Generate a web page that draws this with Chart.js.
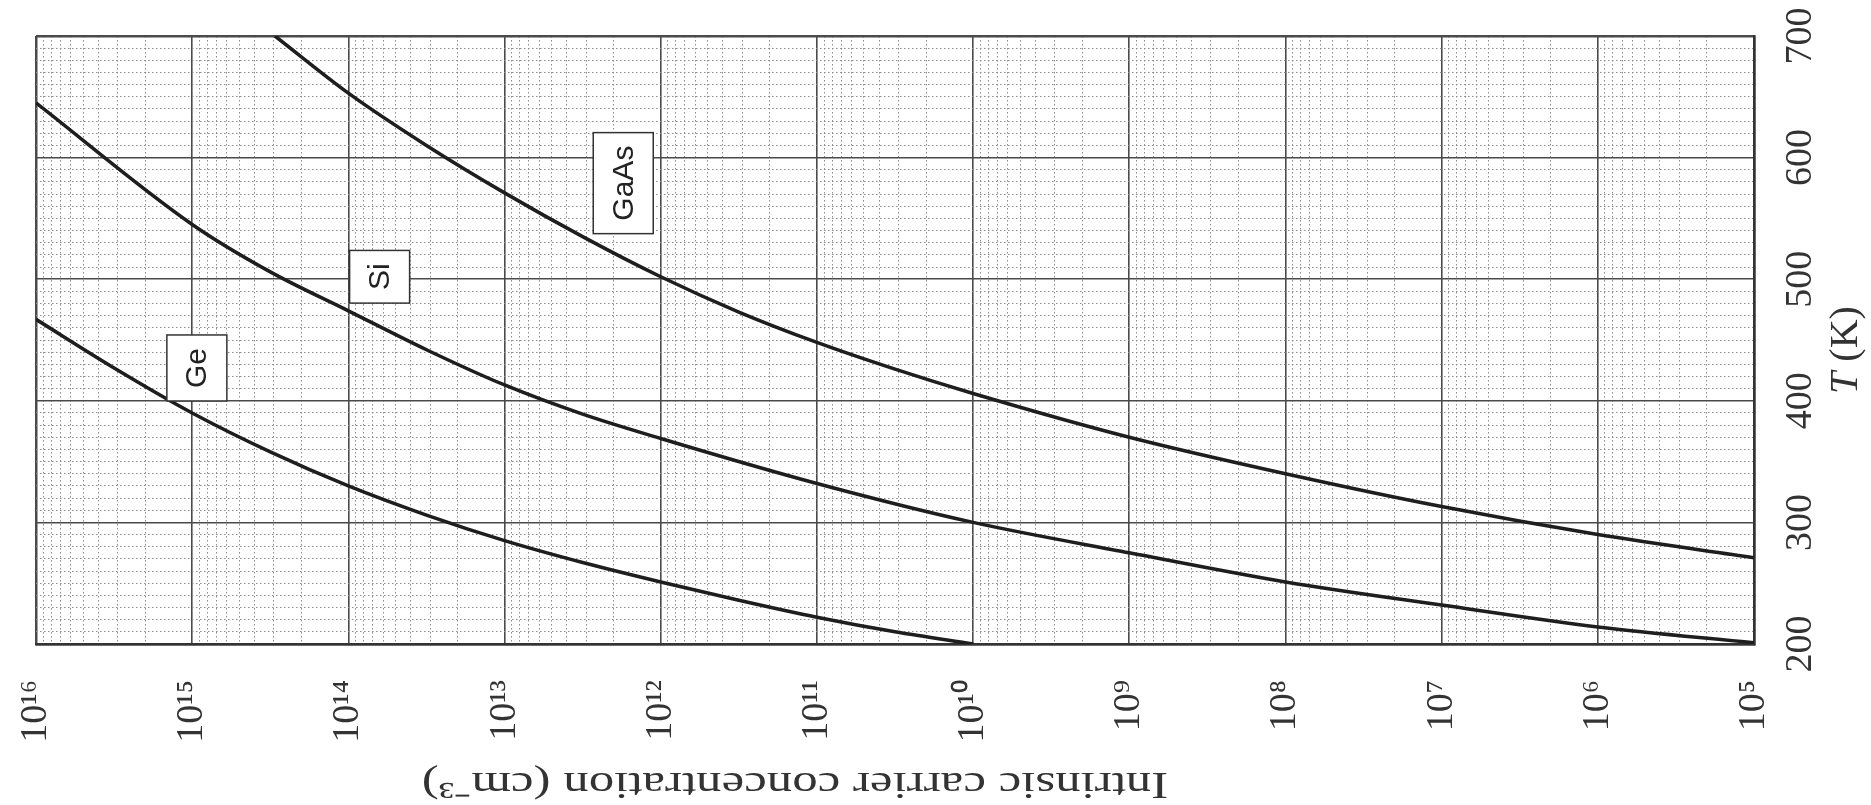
<!DOCTYPE html>
<html>
<head>
<meta charset="utf-8">
<script src="https://cdn.jsdelivr.net/npm/chart.js@4.4.1/dist/chart.umd.min.js"></script>
<style>
  html, body { margin: 0; padding: 0; background: #fff; }
  #wrap { width: 1871px; height: 805px; }
</style>
</head>
<body>
<div id="wrap"><canvas id="ni_chart" width="1871" height="805"></canvas></div>
<script>
// log10 of intrinsic carrier concentration, with the temperature read at each point
const ge_logn = [16, 15.5, 15, 14.5, 14, 13.5, 13, 12.5, 12, 11.5, 11, 10.5, 10];
const ge_temp = [467, 427, 390, 358, 330, 306, 285, 267, 251, 236, 222, 210, 200];

const si_logn = [16, 15, 14.5, 14, 13.5, 13, 12.5, 12, 11, 10, 9, 8, 7, 6, 5];
const si_temp = [645, 545, 506, 474, 442, 413, 389, 369, 332, 300, 275, 251, 232, 214, 201];

const gaas_logn = [14.47, 14, 13.5, 13, 12.5, 12, 11.5, 11, 10.5, 10, 9, 8, 7, 6, 5];
const gaas_temp = [700, 653, 610, 571, 535, 502, 473, 448, 426, 406, 370, 340, 313, 290, 271];

const temp_ticks = [200, 300, 400, 500, 600, 700];

const curve_names = ['Ge', 'Si', 'GaAs'];
// where the boxed names sit (log10 n, T)
const name_logn = [14.97, 13.8, 12.24];
const name_temp = [427, 502, 579];

const sup = { '0': '⁰', '1': '¹', '2': '²', '3': '³', '4': '⁴', '5': '⁵', '6': '⁶', '7': '⁷', '8': '⁸', '9': '⁹' };

function toPoints(logn, temp) {
    return logn.map((e, i) => ({ x: Math.pow(10, e), y: temp[i] }));
}

function isDecade(v) {
    const l = Math.log10(v);
    return Math.abs(l - Math.round(l)) < 1e-6;
}

const serif = '"Liberation Serif", "Times New Roman", serif';

const extraText = {
    id: 'extraText',
    afterDraw(chart) {
        const ctx = chart.ctx;
        const xs = chart.scales.x;
        const ys = chart.scales.y;
        const area = chart.chartArea;

        // boxed curve names
        ctx.save();
        ctx.font = '30px "Liberation Sans", Arial, sans-serif';
        ctx.textAlign = 'center';
        ctx.textBaseline = 'middle';
        curve_names.forEach((name, i) => {
            const cx = xs.getPixelForValue(Math.pow(10, name_logn[i]));
            const cy = ys.getPixelForValue(name_temp[i]);
            const w = ctx.measureText(name).width;
            const len = w + 26;
            const thick = 60;
            ctx.fillStyle = '#fff';
            ctx.fillRect(cx - thick / 2, cy - len / 2, thick, len);
            ctx.strokeStyle = '#333';
            ctx.lineWidth = 1.5;
            ctx.strokeRect(cx - thick / 2, cy - len / 2, thick, len);
            ctx.save();
            ctx.translate(cx, cy);
            ctx.rotate(-Math.PI / 2);
            ctx.fillStyle = '#222';
            ctx.fillText(name, 0, 1);
            ctx.restore();
        });
        ctx.restore();

        // temperature tick labels, turned like the rest of the figure
        ctx.save();
        ctx.font = '38px ' + serif;
        ctx.fillStyle = '#333';
        ctx.textAlign = 'center';
        ctx.textBaseline = 'middle';
        temp_ticks.forEach(t => {
            const py = ys.getPixelForValue(t);
            ctx.save();
            ctx.translate(area.right + 47, py);
            ctx.rotate(-Math.PI / 2);
            ctx.fillText(String(t), 0, 0);
            ctx.restore();
        });

        // T (K)
        ctx.save();
        ctx.translate(1846, 350);
        ctx.rotate(-Math.PI / 2);
        const tFont = 'italic 40px ' + serif;
        const kFont = '40px ' + serif;
        ctx.font = tFont;
        const wT = ctx.measureText('T').width;
        ctx.font = kFont;
        const wK = ctx.measureText(' (K)').width;
        ctx.textAlign = 'left';
        ctx.font = tFont;
        ctx.fillText('T', -(wT + wK) / 2, 0);
        ctx.font = kFont;
        ctx.fillText(' (K)', -(wT + wK) / 2 + wT, 0);
        ctx.restore();

        // concentration title, upside down
        ctx.save();
        ctx.translate(795, 783);
        ctx.rotate(Math.PI);
        ctx.scale(1.34, 1);
        ctx.font = '38px ' + serif;
        ctx.textAlign = 'center';
        ctx.fillText('Intrinsic carrier concentration (cm⁻³)', 0, 0);
        ctx.restore();
        ctx.restore();
    }
};

const ni_chart = document.getElementById('ni_chart');

function edgeX(v) { return Math.abs(Math.log10(v) - 16) < 1e-6 || Math.abs(Math.log10(v) - 5) < 1e-6; }

new Chart(ni_chart, {
    type: 'line',
    data: {
        datasets: [
            { label: 'Ge', data: toPoints(ge_logn, ge_temp) },
            { label: 'Si', data: toPoints(si_logn, si_temp) },
            { label: 'GaAs', data: toPoints(gaas_logn, gaas_temp) },
        ].map(d => Object.assign(d, {
            borderColor: '#1e1e1e',
            borderWidth: 3.5,
            pointRadius: 0,
            cubicInterpolationMode: 'monotone',
            fill: false
        }))
    },
    options: {
        responsive: false,
        animation: false,
        layout: {
            padding: { left: 36, top: 36, right: 0, bottom: 0 }
        },
        plugins: {
            legend: { display: false },
            tooltip: { enabled: false },
            title: { display: false }
        },
        scales: {
            x: {
                type: 'logarithmic',
                reverse: true,
                min: 1e5,
                max: 1e16,
                afterBuildTicks: scale => {
                    const t = [];
                    for (let e = 5; e < 16; e++) {
                        for (let m = 1; m < 10; m++) t.push({ value: m * Math.pow(10, e) });
                    }
                    t.push({ value: 1e16 });
                    scale.ticks = t;
                },
                afterFit: scale => { scale.height = 161; },
                ticks: {
                    autoSkip: false,
                    minRotation: 90,
                    maxRotation: 90,
                    padding: 36,
                    color: '#333',
                    font: { family: serif, size: 38 },
                    callback: v => {
                        if (!isDecade(v)) return '';
                        const e = String(Math.round(Math.log10(v)));
                        return '10' + e.split('').map(c => sup[c]).join('');
                    }
                },
                grid: {
                    drawTicks: false,
                    color: c => (c.tick && isDecade(c.tick.value)) ? '#4a4a4a' : '#8c8c8c',
                    lineWidth: c => {
                        if (!c.tick) return 1;
                        if (edgeX(c.tick.value)) return 2.5;
                        return isDecade(c.tick.value) ? 1.6 : 1;
                    }
                },
                border: {
                    color: '#333',
                    width: 2.5,
                    dash: c => (c.tick && !isDecade(c.tick.value)) ? [1.5, 2.5] : []
                }
            },
            y: {
                type: 'linear',
                position: 'right',
                min: 200,
                max: 700,
                afterBuildTicks: scale => {
                    const t = [];
                    for (let v = 200; v <= 700; v += 10) t.push({ value: v });
                    scale.ticks = t;
                },
                afterFit: scale => { scale.width = 117; },
                ticks: { display: false },
                grid: {
                    drawTicks: false,
                    color: c => (c.tick && c.tick.value % 100 === 0) ? '#4a4a4a' : '#8c8c8c',
                    lineWidth: c => {
                        if (!c.tick) return 1;
                        if (c.tick.value === 200 || c.tick.value === 700) return 2.5;
                        return c.tick.value % 100 === 0 ? 1.6 : 1;
                    }
                },
                border: {
                    color: '#333',
                    width: 2.5,
                    dash: c => (c.tick && c.tick.value % 100 !== 0) ? [1.5, 2.5] : []
                }
            }
        }
    },
    plugins: [extraText]
});
</script>
</body>
</html>
